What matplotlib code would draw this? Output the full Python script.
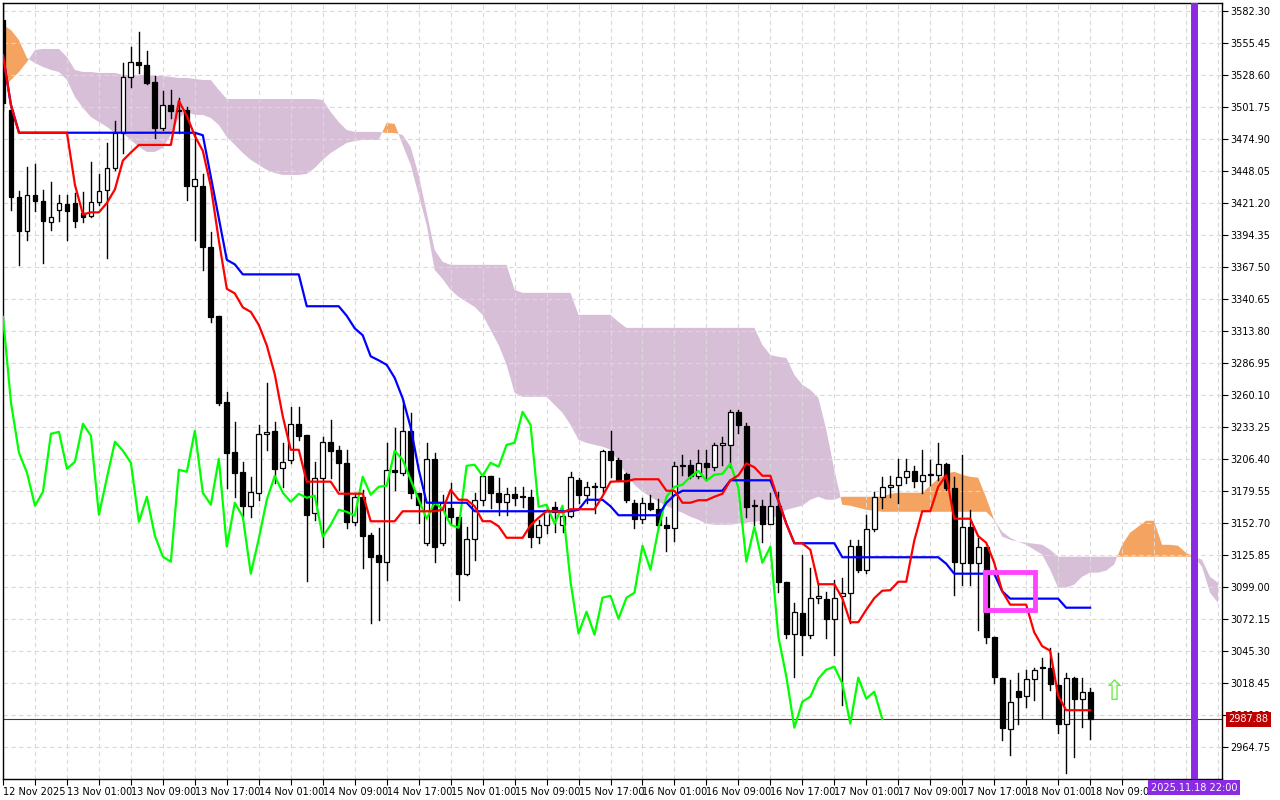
import numpy as np
import pandas as pd
import matplotlib.pyplot as plt
from matplotlib.patches import Rectangle

# === DATA (ETHUSD H1, 12 Nov 17:00 .. 18 Nov 09:00) ===
opens = [3574.7, 3499.2, 3426.2, 3397.7, 3427.9, 3422.9, 3405.3, 3415.3, 3420.3, 3421.2,
         3412.8, 3410.3, 3422.0, 3432.1, 3450.5, 3479.9, 3526.9, 3539.5, 3537.0, 3522.7,
         3484.1, 3503.4, 3499.2, 3499.2, 3435.4, 3435.4, 3384.3, 3326.4, 3254.2, 3212.3,
         3195.5, 3167.0, 3177.9, 3227.4, 3229.9, 3198.9, 3205.6, 3235.8, 3226.5, 3161.1,
         3190.5, 3220.7, 3214.0, 3203.0, 3153.5, 3174.5, 3142.6, 3125.9, 3120.0, 3197.2,
         3194.7, 3229.9, 3177.9, 3135.9, 3206.4, 3135.9, 3165.3, 3157.7, 3110.0, 3139.3,
         3172.0, 3192.1, 3177.9, 3170.3, 3177.0, 3174.5, 3174.5, 3140.9, 3151.0, 3166.1,
         3151.0, 3158.6, 3188.8, 3176.2, 3182.9, 3182.9, 3213.1, 3205.6, 3193.8, 3169.5,
         3156.1, 3169.5, 3164.4, 3151.0, 3148.5, 3200.5, 3201.4, 3192.1, 3203.0, 3199.7,
         3218.1, 3218.1, 3245.8, 3234.1, 3167.0, 3167.0, 3151.9, 3167.0, 3103.2, 3059.6,
         3077.2, 3058.7, 3089.8, 3088.9, 3072.2, 3091.4, 3094.0, 3133.4, 3113.3, 3147.7,
         3174.5, 3182.9, 3184.6, 3191.3, 3196.3, 3187.9, 3193.0, 3193.0, 3202.2, 3182.1,
         3119.1, 3149.3, 3119.1, 3132.6, 3057.0, 3022.7, 2979.9, 3011.8, 3007.6, 3021.8,
         3031.1, 3031.1, 3016.8, 2984.1, 3022.7, 3005.0, 3010.9]
highs = [3591.0, 3503.4, 3431.3, 3451.4, 3453.9, 3432.1, 3438.8, 3427.9, 3427.9, 3429.6,
         3430.4, 3455.6, 3445.5, 3471.5, 3490.0, 3538.6, 3552.1, 3564.7, 3548.7, 3527.7,
         3515.1, 3516.0, 3509.3, 3501.7, 3479.9, 3445.5, 3396.9, 3326.4, 3262.6, 3237.4,
         3203.9, 3191.3, 3234.9, 3270.2, 3237.4, 3219.9, 3250.0, 3250.0, 3226.5, 3203.9,
         3224.9, 3239.1, 3217.3, 3214.0, 3177.9, 3180.4, 3144.3, 3148.5, 3219.9, 3232.4,
         3255.9, 3245.0, 3177.9, 3219.9, 3211.4, 3176.2, 3186.3, 3157.7, 3149.3, 3177.9,
         3192.1, 3192.1, 3190.5, 3182.1, 3182.9, 3182.9, 3180.4, 3155.2, 3166.1, 3170.3,
         3161.1, 3195.5, 3190.5, 3187.1, 3186.3, 3214.0, 3229.9, 3207.2, 3194.7, 3172.0,
         3173.7, 3176.2, 3172.8, 3157.7, 3203.9, 3209.8, 3205.6, 3214.0, 3214.0, 3219.9,
         3224.9, 3247.5, 3247.5, 3236.6, 3172.0, 3172.0, 3177.9, 3178.7, 3103.2, 3085.6,
         3125.9, 3115.0, 3102.4, 3094.8, 3104.9, 3106.6, 3138.4, 3138.4, 3159.4, 3178.7,
         3191.3, 3192.1, 3206.4, 3206.4, 3200.5, 3214.0, 3205.6, 3219.9, 3203.0, 3191.3,
         3209.8, 3163.6, 3140.1, 3132.6, 3057.0, 3022.7, 3021.0, 3026.9, 3029.4, 3031.1,
         3039.4, 3047.8, 3043.6, 3026.9, 3023.5, 3022.7, 3014.2]
lows = [3499.2, 3415.3, 3369.2, 3390.1, 3414.5, 3370.9, 3398.5, 3406.1, 3390.1, 3401.0,
        3405.3, 3409.4, 3419.5, 3375.0, 3448.9, 3463.1, 3518.5, 3530.3, 3521.0, 3475.7,
        3482.4, 3492.5, 3479.9, 3423.7, 3390.1, 3365.0, 3321.3, 3251.7, 3182.1, 3174.5,
        3157.7, 3157.7, 3172.0, 3214.0, 3186.3, 3182.9, 3203.0, 3222.3, 3104.2, 3155.2,
        3132.6, 3190.5, 3180.4, 3148.5, 3151.0, 3114.9, 3068.8, 3071.3, 3104.9, 3180.4,
        3193.0, 3173.7, 3152.7, 3134.2, 3120.0, 3134.2, 3152.7, 3088.1, 3109.1, 3121.7,
        3167.8, 3165.3, 3159.4, 3159.4, 3167.8, 3166.1, 3132.6, 3135.9, 3144.3, 3145.1,
        3145.1, 3157.7, 3169.5, 3169.5, 3161.1, 3178.7, 3191.3, 3187.9, 3170.3, 3148.5,
        3152.7, 3163.6, 3149.3, 3129.2, 3137.6, 3193.0, 3190.5, 3190.5, 3188.8, 3197.2,
        3201.4, 3199.7, 3228.2, 3157.7, 3151.0, 3136.8, 3151.9, 3094.8, 3056.2, 3023.5,
        3042.0, 3056.2, 3085.6, 3056.2, 3042.0, 3000.0, 3068.8, 3111.6, 3110.8, 3146.0,
        3165.3, 3174.5, 3169.5, 3186.3, 3182.9, 3177.9, 3184.6, 3188.8, 3180.4, 3092.3,
        3100.7, 3100.7, 3063.0, 3052.0, 3018.5, 2970.6, 2958.1, 2984.1, 2998.3, 3004.2,
        2989.1, 3012.6, 2976.5, 2942.9, 2956.4, 2981.5, 2971.5]
closes = [3505.1, 3426.2, 3397.7, 3427.9, 3422.9, 3406.1, 3409.4, 3421.2, 3414.5, 3406.1,
          3409.4, 3422.0, 3431.3, 3450.5, 3479.9, 3526.9, 3539.5, 3537.0, 3521.9, 3484.1,
          3503.4, 3498.4, 3498.4, 3435.4, 3441.3, 3384.3, 3325.5, 3253.4, 3211.4, 3194.7,
          3167.0, 3178.7, 3227.4, 3229.0, 3198.0, 3203.9, 3235.8, 3225.7, 3159.4, 3190.5,
          3220.7, 3213.1, 3203.0, 3153.5, 3174.5, 3141.8, 3124.2, 3120.0, 3197.2, 3195.5,
          3229.9, 3177.9, 3167.8, 3206.4, 3132.6, 3169.5, 3157.7, 3110.0, 3139.3, 3172.0,
          3192.1, 3177.9, 3170.3, 3177.0, 3173.7, 3175.4, 3140.9, 3151.0, 3163.6, 3161.9,
          3158.6, 3191.3, 3176.2, 3182.9, 3183.8, 3213.1, 3205.6, 3188.8, 3172.0, 3156.1,
          3169.5, 3164.4, 3151.0, 3148.5, 3200.5, 3201.4, 3192.1, 3203.0, 3199.7, 3218.1,
          3219.9, 3245.8, 3234.9, 3166.1, 3167.8, 3151.9, 3167.0, 3103.2, 3059.6, 3078.0,
          3058.7, 3089.8, 3091.4, 3072.2, 3089.8, 3094.0, 3133.4, 3113.3, 3147.7, 3174.5,
          3182.9, 3184.6, 3191.3, 3196.3, 3187.9, 3193.0, 3193.8, 3202.2, 3182.1, 3120.0,
          3149.3, 3119.1, 3132.6, 3057.0, 3023.5, 2980.7, 3002.5, 3006.7, 3021.8, 3029.4,
          3031.9, 3017.6, 2984.1, 3022.7, 3005.0, 3010.9, 2987.88]

# Senkou spans as drawn (already shifted 26 bars forward), bars 0..152
span_a = [3570.5, 3566.3, 3557.9, 3542.8, 3538.6, 3535.3, 3532.8, 3531.1, 3524.4, 3510.1,
          3500.9, 3493.3, 3489.1, 3485.0, 3479.9, 3479.9, 3474.0, 3468.2, 3464.0, 3464.0,
          3467.3, 3478.2, 3492.5, 3497.5, 3495.0, 3495.0, 3492.5, 3486.6, 3476.6, 3469.9,
          3463.1, 3457.3, 3453.1, 3448.9, 3446.3, 3444.7, 3444.7, 3444.7, 3445.5, 3450.5,
          3457.3, 3463.1, 3467.3, 3471.5, 3473.2, 3474.0, 3474.0, 3474.0, 3488.3, 3487.5,
          3469.9, 3453.1, 3427.9, 3402.7, 3365.0, 3357.3, 3348.2, 3342.3, 3338.1, 3333.9,
          3327.2, 3314.6, 3302.0, 3285.3, 3261.8, 3258.4, 3258.4, 3258.4, 3258.4, 3251.7,
          3245.0, 3234.9, 3222.3, 3219.8, 3218.1, 3216.5, 3214.0, 3203.9, 3193.0, 3184.6,
          3178.7, 3174.5, 3170.3, 3167.0, 3163.6, 3161.1, 3157.7, 3155.2, 3151.9, 3151.0,
          3151.0, 3151.0, 3151.9, 3152.7, 3153.5, 3154.4, 3155.2, 3159.4, 3163.6, 3165.3,
          3167.0, 3172.0, 3174.5, 3172.0, 3172.0, 3174.5, 3174.5, 3174.5, 3174.5, 3174.5,
          3174.5, 3177.0, 3177.9, 3177.9, 3177.9, 3177.9, 3183.8, 3189.6, 3193.8, 3195.5,
          3193.0, 3191.3, 3190.5, 3173.7, 3155.2, 3141.0, 3138.4, 3136.8, 3134.2, 3130.1,
          3126.0, 3113.3, 3098.2, 3098.2, 3100.7, 3107.4, 3110.8, 3110.8, 3112.5, 3117.5,
          3134.2, 3144.3, 3149.3, 3154.4, 3154.4, 3134.2, 3134.2, 3133.4, 3127.5, 3124.2,
          3115.8, 3094.0, 3085.6]
span_b = [3517.7, 3524.4, 3531.1, 3539.5, 3549.6, 3550.4, 3550.4, 3550.4, 3543.7, 3532.8,
          3531.1, 3531.1, 3530.3, 3530.3, 3530.3, 3528.6, 3528.6, 3528.6, 3528.6, 3527.7,
          3527.7, 3526.9, 3526.1, 3526.1, 3525.2, 3524.4, 3524.4, 3516.0, 3508.4, 3508.4,
          3508.4, 3508.4, 3508.4, 3508.4, 3508.4, 3508.4, 3508.4, 3508.4, 3508.4, 3508.4,
          3507.6, 3497.5, 3489.1, 3482.4, 3480.8, 3480.8, 3480.8, 3480.8, 3479.9, 3479.9,
          3478.2, 3468.2, 3444.7, 3413.6, 3381.8, 3371.7, 3369.2, 3369.2, 3369.2, 3369.2,
          3369.2, 3369.2, 3369.2, 3369.2, 3348.2, 3345.7, 3345.7, 3345.7, 3345.7, 3345.7,
          3345.7, 3345.7, 3327.2, 3327.2, 3327.2, 3327.2, 3327.2, 3321.3, 3316.3, 3316.3,
          3316.3, 3316.3, 3316.3, 3316.3, 3316.3, 3316.3, 3316.3, 3316.3, 3316.3, 3316.3,
          3316.3, 3316.3, 3316.3, 3316.3, 3316.3, 3302.0, 3293.6, 3292.0, 3291.1, 3276.9,
          3268.5, 3264.3, 3257.6, 3230.7, 3197.2, 3167.8, 3167.0, 3165.3, 3163.6, 3162.8,
          3161.9, 3161.9, 3161.9, 3161.9, 3161.9, 3161.9, 3161.9, 3161.9, 3161.9, 3161.9,
          3161.9, 3161.9, 3161.9, 3161.9, 3155.2, 3145.1, 3140.1, 3136.8, 3135.9, 3135.1,
          3134.2, 3130.1, 3124.2, 3124.2, 3124.2, 3124.2, 3124.2, 3124.2, 3124.2, 3124.2,
          3124.2, 3124.2, 3124.2, 3124.2, 3124.2, 3124.2, 3124.2, 3124.2, 3124.2, 3124.2,
          3121.7, 3107.4, 3102.4]

yticks = [3582.30, 3555.45, 3528.60, 3501.75, 3474.90, 3448.05, 3421.20, 3394.35, 3367.50,
          3340.65, 3313.80, 3286.95, 3260.10, 3233.25, 3206.40, 3179.55, 3152.70, 3125.85,
          3099.00, 3072.15, 3045.30, 3018.45, 2991.60, 2964.75]

# === Ichimoku lines from candles ===
df = pd.DataFrame({'o': opens, 'h': highs, 'l': lows, 'c': closes})
tenkan = (df.h.rolling(9, min_periods=1).max() + df.l.rolling(9, min_periods=1).min()) / 2
kijun = (df.h.rolling(26, min_periods=1).max() + df.l.rolling(26, min_periods=1).min()) / 2
chikou = df.c.shift(-26)

n = len(df)
idx = np.arange(n)
cidx = np.arange(len(span_a))
sa = np.array(span_a)
sb = np.array(span_b)
times = pd.date_range('2025-11-12 17:00', periods=len(span_a), freq='h')

fig = plt.figure(figsize=(12.8, 8), dpi=100)
ax = fig.add_axes([3 / 1280, 21 / 800, 1219 / 1280, 776 / 800])

# cloud
ax.fill_between(cidx, sa, sb, where=sa >= sb, interpolate=True, color='#f4a460', lw=0, zorder=1)
ax.fill_between(cidx, sa, sb, where=sa < sb, interpolate=True, color='#d8bfd8', lw=0, zorder=1)

# candles
for i in idx:
    o, h, l, c = opens[i], highs[i], lows[i], closes[i]
    ax.plot([i, i], [l, h], color='black', lw=1, zorder=3)
    up = c >= o
    ax.add_patch(Rectangle((i - 0.3, min(o, c)), 0.6, max(abs(c - o), 0.4),
                           facecolor='white' if up else 'black', edgecolor='black',
                           lw=0.9, zorder=4))

ax.plot(idx, chikou, color='#00ff00', lw=1.6, zorder=5)
ax.plot(idx, kijun, color='#0000ff', lw=1.6, zorder=6)
ax.plot(idx, tenkan, color='#ff0000', lw=1.6, zorder=7)

# last price line
last = closes[-1]
ax.axhline(last, color='#8b1a1a', lw=0.8, zorder=2)

# vertical marker at 18 Nov 22:00
ax.axvline(149, color='#8a2be2', lw=5, zorder=8)

# annotations
ax.add_patch(Rectangle((122.8, 3079.7), 6.3, 31.9, fill=False, edgecolor='#ff44ff', lw=3.5, zorder=9))
ax.text(139.0, 3011, '\u21e7', color='#66ee44', fontsize=20, ha='center', va='center', zorder=9)

# axes / grid
ax.set_xlim(0.1, 152.5)
ax.set_ylim(2937.6, 3589.0)
ax.set_xticks(np.arange(0, 153, 4), minor=False)
ax.grid(True, color='#d9d9d9', ls=(0, (4, 3)), lw=0.8, zorder=0)
ax.set_yticks(yticks)
ax.yaxis.tick_right()
ax.set_yticklabels(['%.2f' % v for v in yticks], fontsize=7)
ax.tick_params(axis='y', length=4, pad=2)
lab = []
for k in range(0, 153, 4):
    if k % 8 == 0 and k <= 136:
        t = times[k]
        lab.append('12 Nov 2025' if k == 0 else t.strftime('%d Nov %H:%M').lstrip('0'))
    else:
        lab.append('')
ax.set_xticklabels(lab, fontsize=7, ha='left')
ax.tick_params(axis='x', length=4, pad=2)
for s in ax.spines.values():
    s.set_color('black')
    s.set_linewidth(1)

ax.text(1.005, last, '%.2f' % last, transform=ax.get_yaxis_transform(), fontsize=7,
        color='white', va='center', ha='left',
        bbox=dict(boxstyle='square,pad=0.25', fc='#c00000', ec='none'), zorder=10)
ax.text(149, -0.005, times[149].strftime('%Y.%m.%d %H:%M'), transform=ax.get_xaxis_transform(),
        fontsize=7, color='white', va='top', ha='center',
        bbox=dict(boxstyle='square,pad=0.25', fc='#8a2be2', ec='none'), zorder=10, clip_on=False)

fig.savefig('out.png', dpi=100)
